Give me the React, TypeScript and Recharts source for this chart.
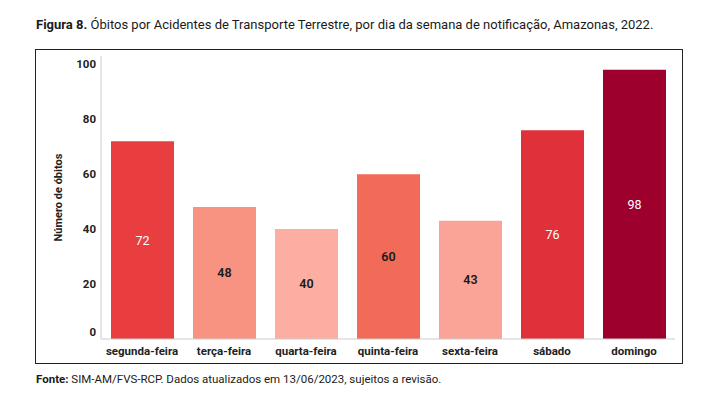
import React from "react";
import { Bar, BarChart, Cell, LabelList, XAxis, YAxis } from "recharts";

const days = ["segunda-feira", "terça-feira", "quarta-feira", "quinta-feira", "sexta-feira", "sábado", "domingo"];
const deaths = [72, 48, 40, 60, 43, 76, 98];
const barColors = ["#E83E3F", "#F89382", "#FBAEA1", "#F26A58", "#F9A497", "#E0313B", "#9E002E"];
const labelColors = ["#ffffff", "#1a1a1a", "#1a1a1a", "#1a1a1a", "#1a1a1a", "#ffffff", "#ffffff"];
const yTicks = [0, 20, 40, 60, 80, 100];

const rows = days.map((day, i) => ({ day, value: deaths[i] }));
const font = "Roboto, 'Noto Sans', sans-serif";

function YTick({ x, y, payload }: { x?: number; y?: number; payload?: { value: number } }) {
  const v = payload?.value ?? 0;
  return (
    <text x={x} y={(y ?? 0) + (v === 0 ? -7 : 0)} dy="0.355em" textAnchor="end" fontSize={11.5} fontWeight={700} fill="#222" fontFamily={font}>
      {v}
    </text>
  );
}

function ValueLabel(props: any) {
  const { x, y, width, height, value, index } = props;
  const white = labelColors[index] === "#ffffff";
  return (
    <text
      x={x + width / 2}
      y={y + height / 2}
      dy="0.355em"
      textAnchor="middle"
      fontSize={12.5}
      fontWeight={white ? 400 : 600}
      fill={labelColors[index]}
      fontFamily={font}
    >
      {value}
    </text>
  );
}

export default function App() {
  return (
    <div style={{ position: "absolute", left: 0, top: 0, width: 706, height: 416, background: "#fff", fontFamily: font }}>
      <div style={{ position: "absolute", left: 36, top: 17, fontSize: 13, color: "#1a1a1a", whiteSpace: "nowrap" }}>
        <b>Figura 8.</b> Óbitos por Acidentes de Transporte Terrestre, por dia da semana de notificação, Amazonas, 2022.
      </div>
      <div
        style={{
          position: "absolute",
          left: 35,
          top: 49,
          width: 646,
          height: 313,
          border: "1.5px solid #222",
        }}
      />
      <div style={{ position: "absolute", left: 0, top: 0 }}>
        <BarChart width={706} height={416} data={rows} margin={{ top: 56, right: 31, bottom: 57, left: 61 }}>
          <XAxis
            dataKey="day"
            height={20}
            tickLine={false}
            axisLine={{ stroke: "#cccccc" }}
            interval={0}
            tick={{ fontSize: 11.5, fontWeight: 700, fill: "#222", fontFamily: font }}
          />
          <YAxis
            type="number"
            domain={[0, 103]}
            ticks={yTicks}
            width={40}
            tickLine={false}
            tickSize={0}
            tickMargin={5}
            axisLine={{ stroke: "#cccccc" }}
            tick={<YTick />}
            label={{
              value: "Número de óbitos",
              angle: -90,
              position: "insideLeft",
              offset: -3,
              style: { textAnchor: "middle", fontSize: 11, fontWeight: 700, fill: "#222", fontFamily: font },
            }}
          />
          <Bar dataKey="value" barSize={63} isAnimationActive={false}>
            {rows.map((r, i) => (
              <Cell key={r.day} fill={barColors[i]} />
            ))}
            <LabelList dataKey="value" content={<ValueLabel />} />
          </Bar>
        </BarChart>
      </div>
      <div style={{ position: "absolute", left: 36, top: 372, fontSize: 11.5, color: "#1a1a1a", whiteSpace: "nowrap" }}>
        <b>Fonte:</b> SIM-AM/FVS-RCP. Dados atualizados em 13/06/2023, sujeitos a revisão.
      </div>
    </div>
  );
}
